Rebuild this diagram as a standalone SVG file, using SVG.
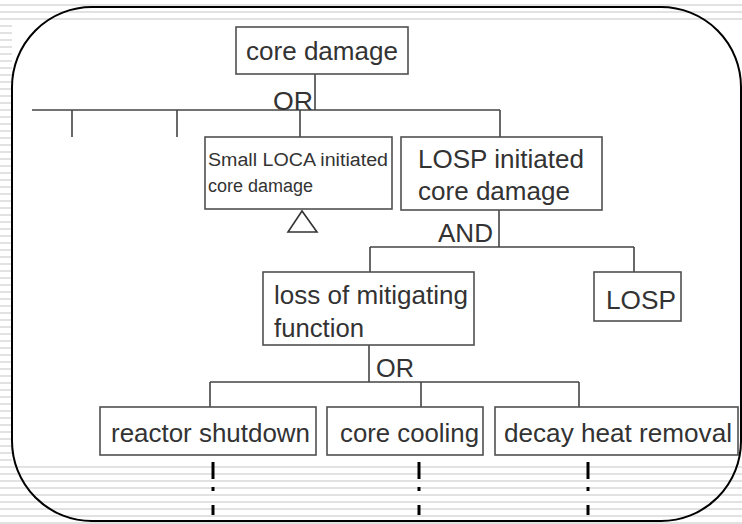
<svg xmlns="http://www.w3.org/2000/svg" width="742" height="524" viewBox="0 0 742 524">
  <defs>
    <pattern id="stripes" patternUnits="userSpaceOnUse" x="0" y="0" width="742" height="7">
      <rect x="0" y="0" width="742" height="7" fill="#ffffff"/>
      <rect x="0" y="4" width="742" height="2" fill="#e2e2e2"/>
    </pattern>
  </defs>
  <style>
    .box { fill: #ffffff; stroke: #505050; stroke-width: 1.6; }
    .txt { font-family: "Liberation Sans", Arial, sans-serif; font-size: 25.5px; fill: #333333; }
    .sm { font-size: 18px; }
    .con { stroke: #444444; stroke-width: 1.6; fill: none; }
    .dd { stroke: #000000; stroke-width: 3; fill: none; }
  </style>

  <!-- background -->
  <rect x="0" y="0" width="742" height="524" fill="url(#stripes)"/>
  <rect x="12" y="22" width="730" height="439" fill="#ffffff"/>

  <!-- connectors -->
  <g id="connectors">
    <path class="con" d="M315 74 V110"/>
    <path class="con" d="M32 110 H500"/>
    <path class="con" d="M72 110 V137 M177 110 V137 M300 110 V137 M500 110 V137"/>
    <path class="con" d="M499 210 V247"/>
    <path class="con" d="M370 247 H634 M370 247 V272 M634 247 V272"/>
    <path class="con" d="M369 345 V382"/>
    <path class="con" d="M210 382 H579 M210 382 V407 M421 382 V407 M579 382 V407"/>
    <path class="dd" d="M213 462 V479 M213 487 V491 M213 505 V515"/>
    <path class="dd" d="M419 462 V479 M419 487 V491 M419 505 V515"/>
    <path class="dd" d="M588 462 V479 M588 487 V491 M588 505 V515"/>
    <text class="txt" x="273" y="110" textLength="40" lengthAdjust="spacingAndGlyphs">OR</text>
    <text class="txt" x="438" y="242" textLength="55" lengthAdjust="spacingAndGlyphs">AND</text>
    <text class="txt" x="376" y="377" textLength="38" lengthAdjust="spacingAndGlyphs">OR</text>
  </g>

  <g id="core-damage">
    <rect class="box" x="236" y="27" width="172" height="47"/>
    <text class="txt" x="246" y="60" textLength="152" lengthAdjust="spacingAndGlyphs">core damage</text>
  </g>

  <g id="small-loca">
    <rect class="box" x="205" y="137" width="187" height="72"/>
    <text class="txt sm" x="208" y="166" textLength="180" lengthAdjust="spacingAndGlyphs">Small LOCA initiated</text>
    <text class="txt sm" x="208" y="192" textLength="105" lengthAdjust="spacingAndGlyphs">core damage</text>
    <polygon points="302,211 288,232 317,232" fill="#ffffff" stroke="#333333" stroke-width="1.6"/>
  </g>

  <g id="losp-initiated">
    <rect class="box" x="401" y="137" width="201" height="73"/>
    <text class="txt" x="418" y="168" textLength="166" lengthAdjust="spacingAndGlyphs">LOSP initiated</text>
    <text class="txt" x="418" y="200" textLength="152" lengthAdjust="spacingAndGlyphs">core damage</text>
  </g>

  <g id="loss-of-mitigating">
    <rect class="box" x="263" y="272" width="211" height="73"/>
    <text class="txt" x="274" y="304" textLength="194" lengthAdjust="spacingAndGlyphs">loss of mitigating</text>
    <text class="txt" x="274" y="337" textLength="90" lengthAdjust="spacingAndGlyphs">function</text>
  </g>

  <g id="losp">
    <rect class="box" x="594" y="272" width="87" height="49"/>
    <text class="txt" x="606" y="309" textLength="70" lengthAdjust="spacingAndGlyphs">LOSP</text>
  </g>

  <g id="reactor-shutdown">
    <rect class="box" x="100" y="407" width="216" height="48"/>
    <text class="txt" x="111" y="442" textLength="199" lengthAdjust="spacingAndGlyphs">reactor shutdown</text>
  </g>

  <g id="core-cooling">
    <rect class="box" x="327" y="407" width="156" height="48"/>
    <text class="txt" x="340" y="442" textLength="139" lengthAdjust="spacingAndGlyphs">core cooling</text>
  </g>

  <g id="decay-heat-removal">
    <rect class="box" x="495" y="407" width="243" height="48"/>
    <text class="txt" x="504" y="442" textLength="228" lengthAdjust="spacingAndGlyphs">decay heat removal</text>
  </g>

  <!-- frame -->
  <rect x="12" y="7" width="729" height="514" rx="80" ry="80" fill="none" stroke="#000000" stroke-width="2"/>
</svg>
